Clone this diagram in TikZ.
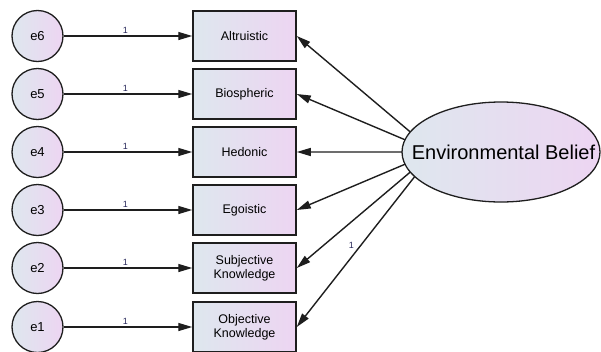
\documentclass[tikz,border=0pt]{standalone}
\usepackage{fontspec}
\setmainfont{Liberation Sans}
\usetikzlibrary{arrows.meta,shapes.geometric,intersections}
\definecolor{gl}{RGB}{222,231,238}
\definecolor{gr}{RGB}{237,213,242}
\definecolor{ln}{RGB}{30,30,30}
\definecolor{lbl}{RGB}{40,40,90}
\tikzset{
  grad/.style={left color=gl,right color=gr,shading angle=90},
  errc/.style={circle,draw=ln,line width=1.3pt,minimum size=51pt,inner sep=0pt,grad,font=\fontsize{13}{14}\selectfont},
  obsbox/.style={rectangle,draw=ln,line width=1.5pt,minimum width=103pt,minimum height=50pt,inner sep=0pt,grad,align=center,font=\fontsize{12.5}{14}\selectfont},
  latent/.style={ellipse,draw=ln,line width=1.3pt,minimum width=198pt,minimum height=100pt,inner sep=0pt,grad},
  latenttext/.style={font=\fontsize{20}{22}\selectfont,inner sep=0pt},
  conn/.style={draw=ln,line width=1.4pt,-{Triangle[length=14pt,width=8pt]}},
  onelbl/.style={font=\fontsize{9}{10}\selectfont,text=lbl,inner sep=1pt}
}
\begin{document}
\begin{tikzpicture}[x=1pt,y=-1pt]
\useasboundingbox (0,0) rectangle (601,351);
\node[latent] (eb) at (501,152) {};
\path[name path=E] (eb.center) ellipse [x radius=99pt, y radius=50pt];
\node[latenttext] (ebt) at (503.5,152) {Environmental Belief};
\coordinate (f) at (434,152);
\foreach \i/\e/\t/\y in {1/e6/Altruistic/36, 2/e5/Biospheric/94, 3/e4/Hedonic/152, 4/e3/Egoistic/210, 5/e2/{Subjective\\Knowledge}/268, 6/e1/{Objective\\Knowledge}/327}{
  \node[errc] (\e) at (37.5,\y) {\e};
  \node[obsbox] (b\i) at (244.5,\y) {\t};
  \draw[conn] (\e) -- node[onelbl,above=1pt,pos=0.48] {1} (b\i);
  \path[name path=L\i] (f) -- (b\i.east);
  \path[name intersections={of=E and L\i, by={s\i}}];
}
\draw[conn] (s1) -- (b1.east);
\draw[conn] (s2) -- (b2.east);
\draw[conn] (s3) -- (b3.east);
\draw[conn] (s4) -- (b4.east);
\draw[conn] (s5) -- (b5.east);
\draw[conn] (s6) -- node[onelbl,pos=0.46,left=5pt] {1} (b6.east);
\end{tikzpicture}
\end{document}
